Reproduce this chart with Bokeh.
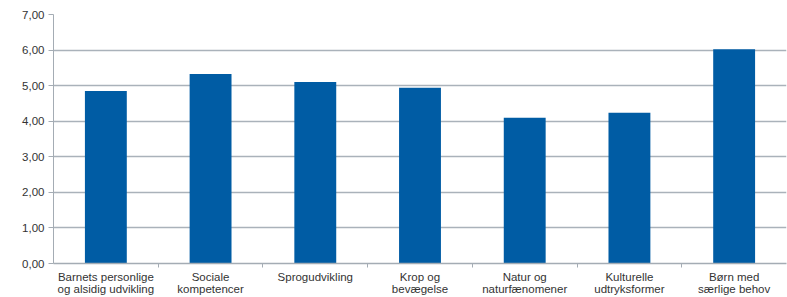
from bokeh.plotting import figure
from bokeh.models import (ColumnDataSource, Range1d, FactorRange, LinearAxis,
                          CategoricalAxis, FixedTicker)
from bokeh.embed import file_html
from bokeh.resources import INLINE

categories = [
    "Barnets personlige\nog alsidig udvikling",
    "Sociale\nkompetencer",
    "Sprogudvikling",
    "Krop og\nbevægelse",
    "Natur og\nnaturfænomener",
    "Kulturelle\nudtryksformer",
    "Børn med\nsærlige behov",
]
values = [4.85, 5.33, 5.10, 4.94, 4.10, 4.24, 6.02]
y_ticks = [0, 1, 2, 3, 4, 5, 6, 7]
y_tick_labels = ["0,00", "1,00", "2,00", "3,00", "4,00", "5,00", "6,00", "7,00"]

FONT = "Liberation Sans"
TEXT = "#333333"
GRID = "#aab2ba"
AXIS = "#a4acb4"
BAR = "#005ca4"

src = ColumnDataSource(dict(cat=categories, val=values))

p = figure(width=787, height=297, output_backend="svg", toolbar_location=None,
           x_range=FactorRange(factors=categories, range_padding=0),
           y_range=Range1d(0, 7), x_axis_location=None,
           min_border_left=53, min_border_right=1, min_border_top=14,
           min_border_bottom=0)
p.outline_line_color = None
p.background_fill_color = "white"

p.vbar(x="cat", top="val", width=0.4, source=src, color=BAR, line_color=None)

# y axis
ya = p.yaxis[0]
ya.ticker = FixedTicker(ticks=y_ticks)
ya.major_label_overrides = {t: l for t, l in zip(y_ticks, y_tick_labels)}
ya.axis_line_color = AXIS
ya.major_tick_line_color = AXIS
ya.major_tick_out = 5
ya.major_tick_in = 0
ya.minor_tick_line_color = None
ya.major_label_standoff = 4
ya.major_label_text_font = FONT
ya.major_label_text_font_size = "11.5px"
ya.major_label_text_color = TEXT

p.ygrid.ticker = FixedTicker(ticks=y_ticks)
p.ygrid.grid_line_color = GRID
p.ygrid.grid_line_width = 1.5
p.xgrid.grid_line_color = None

# separator ticks between categories (synthetic category coordinates)
sep = LinearAxis(ticker=FixedTicker(ticks=list(range(1, len(categories)))))
sep.axis_line_color = AXIS
sep.axis_line_width = 1.5
sep.major_tick_line_color = AXIS
sep.major_tick_out = 4
sep.major_tick_in = 0
sep.minor_tick_line_color = None
sep.major_label_text_font_size = "0px"
sep.major_label_text_color = None
sep.major_label_standoff = 0
p.add_layout(sep, "below")

cax = CategoricalAxis()
cax.axis_line_color = None
cax.major_tick_line_color = None
cax.minor_tick_line_color = None
cax.major_label_standoff = -3
cax.major_label_text_font = FONT
cax.major_label_text_font_size = "11.5px"
cax.major_label_text_color = TEXT
cax.major_label_text_line_height = 1.0
p.add_layout(cax, "below")

open("out.html", "w").write(file_html(p, INLINE))
